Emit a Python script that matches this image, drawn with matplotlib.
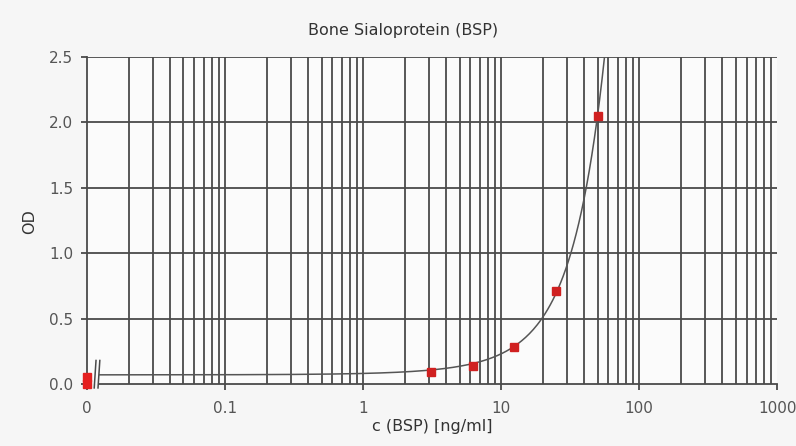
import matplotlib
matplotlib.use("Agg")
import matplotlib.pyplot as plt
import numpy as np

plt.rcParams['font.family'] = ['DejaVu Sans']

# standards (concentration in ng/ml, OD)
conc = [3.125, 6.25, 12.5, 25, 50]
od = [0.095, 0.14, 0.28, 0.71, 2.05]
# blanks, drawn at the "0" position of the axis
blank_od = [0.05, 0.0]
# lower plateau of the fitted curve
bottom = 0.07

x_ticks = [0.01, 0.1, 1, 10, 100, 1000]
x_labels = ['0', '0.1', '1', '10', '100', '1000']
y_ticks = [0.0, 0.5, 1.0, 1.5, 2.0, 2.5]

fig = plt.figure(figsize=(7.96, 4.46), dpi=100, facecolor='#f6f6f6')
ax = fig.add_axes([0.1093, 0.139, 0.867, 0.733])
ax.set_facecolor('#fbfbfb')
ax.set_xscale('log')
ax.set_xlim(0.01, 1000)
ax.set_ylim(0, 2.5)

gcol = '#4a4a4a'
# vertical grid at every 1..9 x 10^k, the first one is the left spine
grid_x = [m * 10.0 ** k for k in range(-2, 3) for m in range(1, 10)][1:]
ax.vlines(grid_x, 0, 2.5, color=gcol, lw=1.3, zorder=1)
for y in y_ticks[1:]:
    ax.axhline(y, color=gcol, lw=1.3, zorder=1)
# bottom line starts after the axis break
ax.plot([0.0122, 1000], [0, 0], color=gcol, lw=1.3, zorder=1, clip_on=False)

for s in ['top', 'right', 'bottom']:
    ax.spines[s].set_visible(False)
ax.spines['left'].set_color(gcol)
ax.spines['left'].set_linewidth(1.3)

# axis break marks
for xb in [0.01145, 0.0122]:
    ax.plot([xb * 0.985, xb * 1.015], [-0.03, 0.18], color=gcol, lw=1.1,
            clip_on=False, zorder=3)

# quadratic fit of the standards above the plateau
c = np.array(conc)
A = np.column_stack([c, c ** 2])
coef, *_ = np.linalg.lstsq(A, np.array(od) - bottom, rcond=None)
xc = np.logspace(np.log10(0.0124), np.log10(70), 400)
ax.plot(xc, bottom + coef[0] * xc + coef[1] * xc ** 2, color='#555555',
        lw=1.1, zorder=2)

ax.plot(conc, od, 's', color='#d02020', ms=6, zorder=4)
ax.plot([0.01] * len(blank_od), blank_od, 's', color='#e52020', ms=6,
        zorder=4, clip_on=False)

ax.set_xticks(x_ticks)
ax.set_xticklabels(x_labels)
ax.xaxis.set_minor_locator(matplotlib.ticker.NullLocator())
ax.set_yticks(y_ticks)
ax.set_yticklabels(['%.1f' % v for v in y_ticks])
ax.tick_params(axis='x', length=4.5, width=1.3, color=gcol, labelsize=11,
               labelcolor='#555555', pad=8)
ax.tick_params(axis='y', length=4, width=1.3, color=gcol, labelsize=11,
               labelcolor='#555555', pad=6)

fig.text(403 / 796, 1 - 31 / 446, 'Bone Sialoprotein (BSP)', fontsize=11.5,
         color='#333333', ha='center', va='center')
fig.text(432 / 796, 1 - 426 / 446, 'c (BSP) [ng/ml]', fontsize=11.5,
         color='#333333', ha='center', va='center')
fig.text(30 / 796, 1 - 222 / 446, 'OD', fontsize=11.5, color='#333333',
         ha='center', va='center', rotation=90)

plt.savefig('out.png', dpi=100, facecolor=fig.get_facecolor())
plt.close()
